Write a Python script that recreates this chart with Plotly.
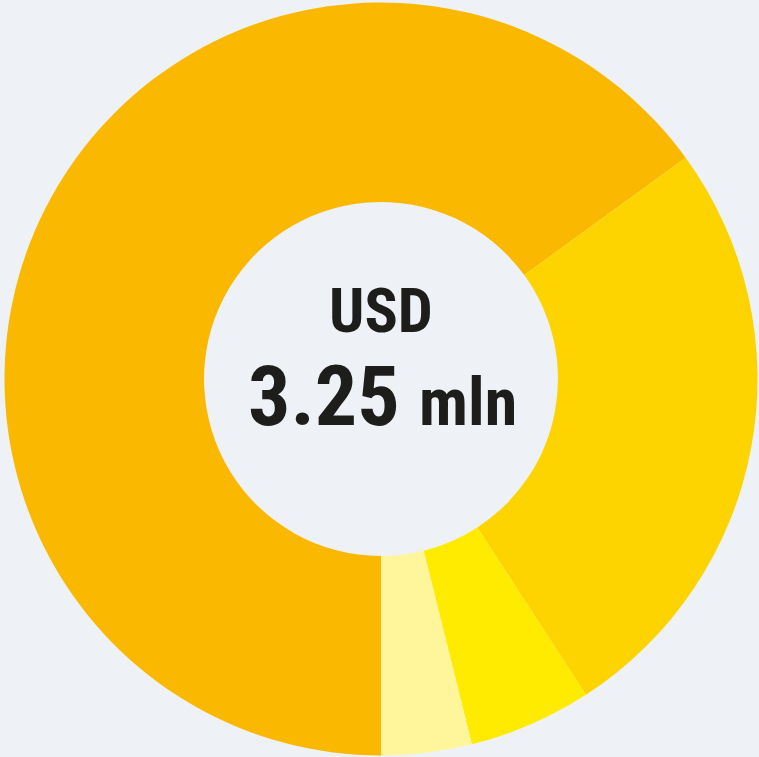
import plotly.graph_objects as go

labels = ["Segment A", "Segment B", "Segment C", "Segment D"]
shares = [65.0, 25.83, 5.28, 3.88]
colors = ["#FBB800", "#FDD300", "#FFEB00", "#FFF59A"]
center_title = "USD"
center_value = "3.25"
center_unit = "mln"

bg = "#EEF2F6"
W, H = 759, 757
cx, cy, R = 381, 379, 376.5

fig = go.Figure(go.Pie(
    labels=labels,
    values=shares,
    hole=0.47,
    sort=False,
    direction="clockwise",
    rotation=180,
    marker=dict(colors=colors, line=dict(width=0)),
    textinfo="none",
    hoverinfo="label+percent",
    domain=dict(x=[(cx - R) / W, (cx + R) / W], y=[(H - cy - R) / H, (H - cy + R) / H]),
))

font_family = "Liberation Sans Narrow, Roboto Condensed, Arial Narrow, sans-serif"
fig.add_annotation(
    x=cx / W, y=1 - 310 / H, xref="paper", yref="paper",
    text=f"<b>{center_title}</b>", showarrow=False,
    font=dict(family=font_family, size=62, color="#1D1D1B"),
    xanchor="center", yanchor="middle",
)
fig.add_annotation(
    x=(cx + 1) / W, y=1 - 396 / H, xref="paper", yref="paper",
    text=f"<b>{center_value}</b> <b><span style='font-size:66px'>{center_unit}</span></b>",
    showarrow=False,
    font=dict(family=font_family, size=84, color="#1D1D1B"),
    xanchor="center", yanchor="middle",
)

fig.update_layout(
    width=W, height=H,
    margin=dict(l=0, r=0, t=0, b=0),
    paper_bgcolor=bg, plot_bgcolor=bg,
    showlegend=False,
)

fig.write_html(
    "out.html",
    config={"displayModeBar": False},
    post_script="document.body.style.margin='0';document.body.style.padding='0';document.body.style.background='" + bg + "';",
)
